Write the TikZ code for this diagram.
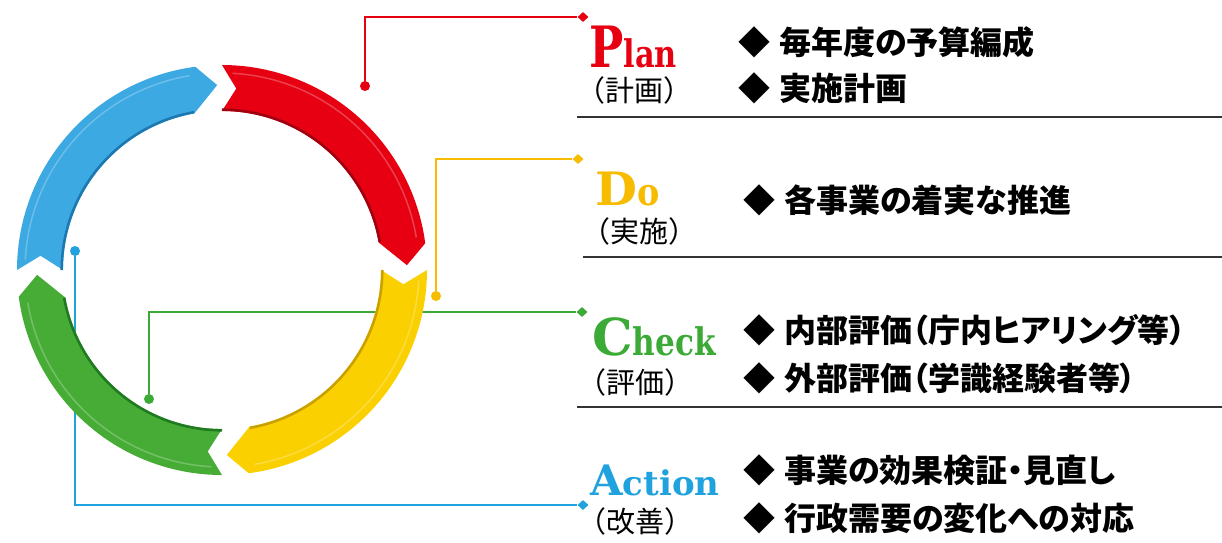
\documentclass[tikz,border=0pt]{standalone}
\usepackage{fontspec}
\setmainfont{DejaVu Serif}
\newfontfamily\jp{Noto Sans CJK JP}
\newfontfamily\jpp[RawFeature=+palt]{Noto Sans CJK JP}
\usetikzlibrary{shapes.geometric}
\definecolor{ringred}{HTML}{E60012}
\definecolor{ringredD}{HTML}{9E0010}
\definecolor{ringyel}{HTML}{FAD000}
\definecolor{ringyelD}{HTML}{C9A000}
\definecolor{ringgreen}{HTML}{46AC35}
\definecolor{ringgreenD}{HTML}{1F7A22}
\definecolor{ringblue}{HTML}{3CA9E2}
\definecolor{ringblueD}{HTML}{1C78B0}
\definecolor{lnred}{HTML}{E60012}
\definecolor{lnyel}{HTML}{F7BB00}
\definecolor{lngreen}{HTML}{3CAA36}
\definecolor{lnblue}{HTML}{1FA2DD}
\definecolor{sepgray}{HTML}{333333}
\newcommand\ringarrow[3]{%
  \pgfmathsetmacro\raA{#1}%
  \pgfmathsetmacro\raB{#1+82.5}%
  \pgfmathsetmacro\raC{#1+80}%
  \pgfmathsetmacro\raT{#1+88.5}%
  \pgfmathsetmacro\raN{#1+4.5}%
  \fill[#2] (\raA:205) -- plot[domain=\raA:\raB,samples=60] (\x:205) -- (\raT:185) -- plot[domain=\raC:\raA,samples=60] (\x:159) -- (\raN:182) -- cycle;
  \draw[#3, line width=2.5pt] plot[domain=\raC:\raA,samples=60] (\x:160.3);
  \draw[white, opacity=0.25, line width=1.5pt] plot[domain=\raA+3:\raB-2,samples=60] (\x:197);
}
\newcommand\sx[2]{\scalebox{#1}[1]{#2}}
\tikzset{
  dotnode/.style={circle, fill=#1, inner sep=0pt, minimum size=10pt},
  endnode/.style={diamond, fill=#1, inner sep=0pt, minimum width=11pt, minimum height=10pt},
  conn/.style={draw=#1, line width=2pt},
  title/.style={anchor=base west, inner sep=0pt, font=\bfseries, text=#1},
  sub/.style={anchor=west, inner sep=0pt, font=\jp\fontsize{29}{29}\selectfont},
  item/.style={anchor=west, inner sep=0pt, font=\jpp\bfseries\fontsize{32}{32}\selectfont},
  sep/.style={draw=sepgray, line width=2pt}
}
\begin{document}
\begin{tikzpicture}[x=1pt,y=-1pt]
\useasboundingbox[fill=white] (0,0) rectangle (1222,542);
% connectors (under the ring)
\node[dotnode=lnred] (pdot) at (365,86) {};
\node[endnode=lnred] (pend) at (583,17) {};
\node[dotnode=lnyel] (ddot) at (436,296) {};
\node[endnode=lnyel] (dend) at (578,159) {};
\node[dotnode=lngreen] (cdot) at (149,399) {};
\node[endnode=lngreen] (cend) at (582,312) {};
\node[dotnode=lnblue] (adot) at (75,251) {};
\node[endnode=lnblue] (aend) at (583,505) {};
\draw[conn=lnred] (pdot) |- (pend);
\draw[conn=lnyel] (ddot) |- (dend);
\draw[conn=lngreen] (cdot) |- (cend);
\draw[conn=lnblue] (adot) |- (aend);
% ring
\begin{scope}[shift={(222,270)}]
\ringarrow{270}{ringred}{ringredD}
\ringarrow{0}{ringyel}{ringyelD}
\ringarrow{90}{ringgreen}{ringgreenD}
\ringarrow{180}{ringblue}{ringblueD}
\end{scope}
% separators
\draw[sep] (577,117) -- (1222,117);
\draw[sep] (583,257) -- (1222,257);
\draw[sep] (577,407) -- (1222,407);
% titles
\node[title=lnred] (plan) at (589,67) {\fontsize{57}{57}\selectfont\sx{0.8}{P}\fontsize{38}{38}\selectfont\sx{0.8}{lan}};
\node[title=lnyel] (do) at (595,205) {\fontsize{46}{46}\selectfont\sx{1.05}{D}\fontsize{38}{38}\selectfont\sx{0.88}{o}};
\node[title=lngreen] (check) at (592,355) {\fontsize{51}{51}\selectfont C\fontsize{38}{38}\selectfont\sx{0.82}{heck}};
\node[title=lnblue] (action) at (590,495) {\fontsize{42}{42}\selectfont A\fontsize{34}{34}\selectfont\sx{1.0}{ction}};
\node[sub] (plansub) at (576,90) {（計画）};
\node[sub] (dosub) at (581,231) {（実施）};
\node[sub] (checksub) at (577,382) {（評価）};
\node[sub] (actionsub) at (577,521) {（改善）};
% items
\node[item] (p1) at (738,42) {◆\hspace{9pt}毎年度の予算編成};
\node[item] (p2) at (738,88) {◆\hspace{9pt}実施計画};
\node[item] (d1) at (743,200) {◆\hspace{9pt}各事業の着実な推進};
\node[item] (c1) at (743,330) {◆\hspace{9pt}内部評価（庁内ヒアリング等）};
\node[item] (c2) at (743,378) {◆\hspace{9pt}外部評価（学識経験者等）};
\node[item] (a1) at (743,470) {◆\hspace{9pt}事業の効果検証・見直し};
\node[item] (a2) at (743,518) {◆\hspace{9pt}行政需要の変化への対応};
\end{tikzpicture}
\end{document}
